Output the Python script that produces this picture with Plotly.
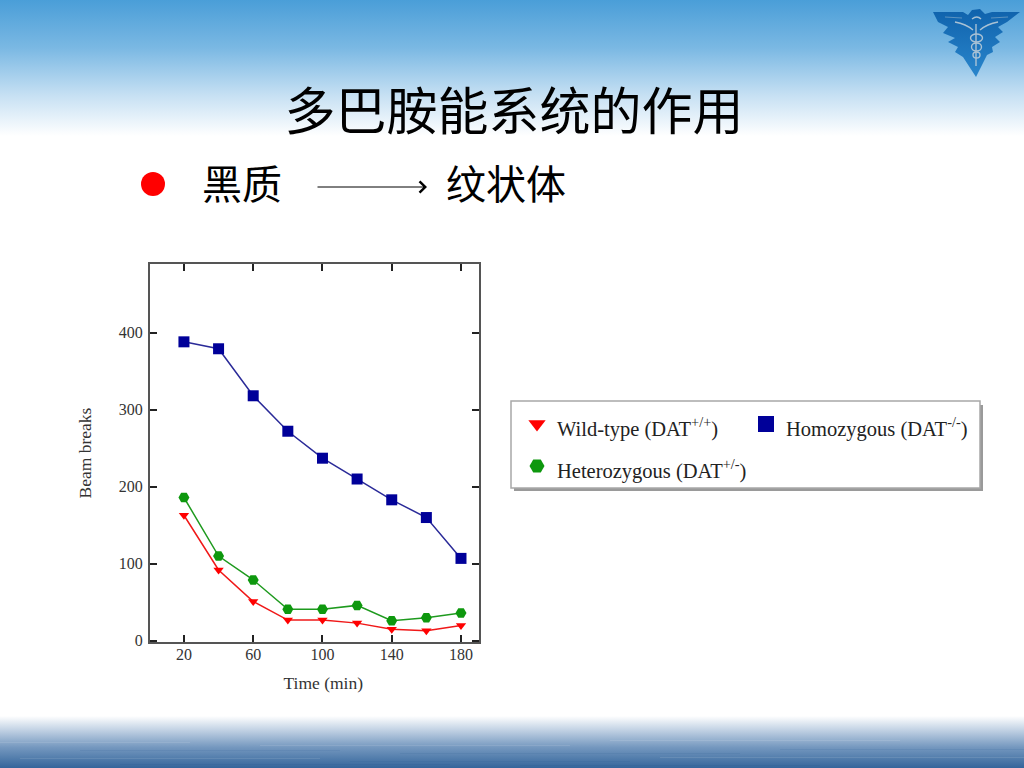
import base64
import plotly.graph_objects as go

time_min = [20, 40, 60, 80, 100, 120, 140, 160, 180]
wild_type = [163, 92, 51, 27, 27, 23, 15, 13, 20]
homozygous = [388, 379, 318, 272, 237, 210, 183, 160, 107]
heterozygous = [186, 110, 79, 41, 41, 46, 26, 30, 36]
x_ticks = [20, 60, 100, 140, 180]
y_ticks = [0, 100, 200, 300, 400]

W, H = 1024, 768
L, R, T, B = 150, 479, 264, 642


def px(x, y):
    return (x - L) / (R - L), (B - y) / (B - T)


stripes = "".join(
    f'<rect x="{x}" y="{y}" width="{w}" height="1" fill="{c}" opacity="0.1"/>'
    for x, y, w, c in [
        (0, 742, 190, "#ffffff"), (260, 745, 310, "#ffffff"), (610, 740, 290, "#ffffff"),
        (80, 750, 260, "#1f4f85"), (400, 753, 340, "#1f4f85"), (780, 749, 244, "#1f4f85"),
        (20, 758, 300, "#ffffff"), (350, 761, 280, "#1f4f85"), (660, 757, 364, "#ffffff"),
        (120, 764, 330, "#1f4f85"), (520, 765, 300, "#1f4f85"),
    ])

svg = f'''<svg xmlns="http://www.w3.org/2000/svg" width="{W}" height="{H}" viewBox="0 0 {W} {H}">
<defs>
<linearGradient id="t" x1="0" y1="0" x2="0" y2="1">
<stop offset="0" stop-color="#4a9ed8"/><stop offset="0.35" stop-color="#7ab8e3"/>
<stop offset="0.7" stop-color="#c6e0f3"/><stop offset="1" stop-color="#ffffff"/></linearGradient>
<linearGradient id="b" x1="0" y1="0" x2="0" y2="1">
<stop offset="0" stop-color="#ffffff"/><stop offset="0.25" stop-color="#c6d5e6"/>
<stop offset="0.6" stop-color="#7598bf"/><stop offset="1" stop-color="#34659b"/></linearGradient>
<linearGradient id="e" x1="0" y1="0" x2="0" y2="1">
<stop offset="0" stop-color="#0f62ac"/><stop offset="1" stop-color="#2a86cc"/></linearGradient>
</defs>
<rect width="{W}" height="{H}" fill="#fff"/>
<rect width="{W}" height="136" fill="url(#t)"/>
<rect y="716" width="{W}" height="52" fill="url(#b)"/>
{stripes}
<path d="M933 12 L963 12 L968 15 L972 10 L980 9 L985 14 L992 12 L1020 12 L1007 22 L998 27 L1003 32 L995 37 L1000 42 L992 47 L993 52 L987 55 L976 77 L963 57 L955 52 L958 47 L948 42 L955 38 L943 33 L948 27 L938 22 Z" fill="url(#e)"/>
<g fill="none" stroke="#b9cbd8" stroke-width="1.4" opacity="0.9">
<path d="M955 22 Q966 24 973 30"/><path d="M998 22 Q987 24 980 30"/>
<path d="M976 24 L976 66"/>
<path d="M972 19 Q977 15 981 19"/>
<ellipse cx="976.500" cy="38" rx="6" ry="4"/>
<ellipse cx="976.500" cy="47" rx="5" ry="4"/>
<ellipse cx="976.500" cy="55" rx="3.500" ry="3"/>
</g>
<g fill="none" stroke="#5c93c0" stroke-width="1"><path d="M945 17 L962 18"/><path d="M1008 17 L991 18"/></g>
</svg>'''
bg_uri = "data:image/svg+xml;base64," + base64.b64encode(svg.encode()).decode()

SERIF = "Liberation Serif"
series = [
    ("Wild-type (DAT<sup>+/+</sup>)", wild_type, "#f01818", "#ff0000", "triangle-down", 9, 15),
    ("Homozygous (DAT<sup>-/-</sup>)", homozygous, "#2a2a98", "#000099", "square", 11, 16),
    ("Heterozygous (DAT<sup>+/-</sup>)", heterozygous, "#1e9a1e", "#0e980e", "hexagon2", 11, 15),
]


def legend_label(text):
    return f'<span style="font-size:20.5px">{text}</span>'


fig = go.Figure()
for name, vals, lc, mc, sym, ms, lms in series:
    fig.add_trace(go.Scatter(x=time_min, y=vals, mode="lines+markers", showlegend=False,
                             line=dict(color=lc, width=1.5),
                             marker=dict(symbol=sym, size=ms, color=mc)))
for name, vals, lc, mc, sym, ms, lms in series:
    fig.add_trace(go.Scatter(x=[None], y=[None], mode="markers", name=legend_label(name),
                             marker=dict(symbol=sym, size=lms, color=mc)))

axis_common = dict(showgrid=False, zeroline=False, showline=True, linecolor="#555555", linewidth=2,
                   ticks="inside", ticklen=7, tickwidth=1.5, tickcolor="#222222", mirror="ticks",
                   tickfont=dict(family=SERIF, size=16, color="#333333"))
title_font = dict(family=SERIF, size=17.5, color="#333333")
fig.update_xaxes(range=[0.4, 190.4], tickmode="array", tickvals=x_ticks, ticklabelstandoff=-3,
                 title=dict(text="&nbsp;&nbsp;&nbsp;&nbsp;Time (min)", font=title_font, standoff=15),
                 **axis_common)
fig.update_yaxes(range=[-1.5, 489], tickmode="array", tickvals=y_ticks, ticklabelstandoff=2,
                 title=dict(text="Beam breaks", font=title_font, standoff=23),
                 **axis_common)

shapes = []
# legend box and its shadow
x0, y0 = px(514, 405); x1, y1 = px(983, 491)
shapes.append(dict(type="rect", xref="paper", yref="paper", x0=x0, y0=y0, x1=x1, y1=y1,
                   fillcolor="#9a9a9a", line=dict(width=0), layer="below"))
x0, y0 = px(511, 401); x1, y1 = px(980, 488)
shapes.append(dict(type="rect", xref="paper", yref="paper", x0=x0, y0=y0, x1=x1, y1=y1,
                   fillcolor="#ffffff", line=dict(width=1.5, color="#a8a8a8"), layer="below"))
# bullet
x0, y0 = px(141, 172); x1, y1 = px(165, 196)
shapes.append(dict(type="circle", xref="paper", yref="paper", x0=x0, y0=y0, x1=x1, y1=y1,
                   fillcolor="#ff0000", line=dict(width=0)))

annotations = []
for text, cx, cy in [("黑质", 242, 182), ("纹状体", 506, 182)]:
    ax_, ay_ = px(cx, cy)
    annotations.append(dict(xref="paper", yref="paper", x=ax_, y=ay_, text=text, showarrow=False,
                            font=dict(family="Noto Sans CJK SC", size=40, color="#000000"),
                            xanchor="center", yanchor="middle"))
hx, hy = px(427, 187)
annotations.append(dict(xref="paper", yref="paper", x=hx, y=hy, ax=-111, ay=0, axref="pixel", ayref="pixel",
                        text="", showarrow=True, arrowhead=4, arrowsize=2.2, arrowwidth=1, arrowcolor="#000000"))

lx, ly = px(517, 398)
fig.update_layout(
    width=W, height=H,
    margin=dict(l=L, r=W - R, t=T, b=H - B, autoexpand=False),
    paper_bgcolor="#ffffff", plot_bgcolor="#ffffff",
    title=dict(text="多巴胺能系统的作用", x=514 / W, xanchor="center", y=1 - 112 / H, yanchor="middle",
               font=dict(family="Noto Sans CJK SC", size=51, color="#000000")),
    legend=dict(orientation="h", x=lx, y=ly, xanchor="left", yanchor="top", entrywidth=184, entrywidthmode="pixels",
                bgcolor="rgba(0,0,0,0)", font=dict(family=SERIF, size=30, color="#222222"), itemclick=False),
    images=[dict(source=bg_uri, xref="paper", yref="paper", x=-L / (R - L), y=1 + T / (B - T),
                 sizex=W / (R - L), sizey=H / (B - T), xanchor="left", yanchor="top", sizing="stretch", layer="below")],
    shapes=shapes, annotations=annotations,
)
fig.write_html("out.html", config={"displayModeBar": False}, post_script="document.body.style.margin='0';")
